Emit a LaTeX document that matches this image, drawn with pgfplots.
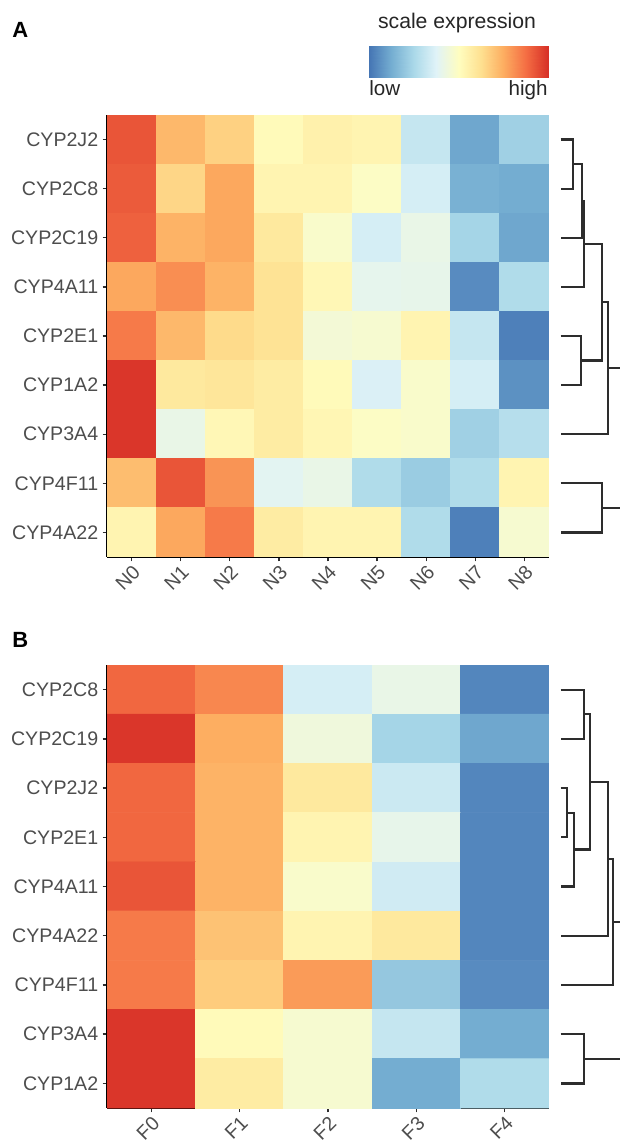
\documentclass[border=0pt]{standalone}
\usepackage{pgfplots}
\pgfplotsset{compat=1.18}
\usepackage{fontspec}
\setmainfont{Liberation Sans}
\definecolor{txtgray}{RGB}{77,77,77}
\definecolor{dgray}{RGB}{45,45,45}
\pgfplotsset{
  colormap={rdylbu}{rgb255=(69,117,180) rgb255=(116,173,209) rgb255=(171,217,233) rgb255=(224,243,248) rgb255=(255,253,191) rgb255=(254,224,144) rgb255=(253,174,97) rgb255=(244,109,67) rgb255=(215,48,39)},
  heat/.style={
    scale only axis, colormap name=rdylbu,
    point meta min=-2, point meta max=2,
    ymin=-0.5, ymax=8.5, y dir=reverse,
    axis x line*=bottom, axis y line*=left,
    axis line style={black, line width=0.8pt, -},
    tick style={dgray, line width=0.7pt},
    major tick length=2.2pt, tick align=outside,
    ytick={0,...,8}, xtick=data,
    tick label style={font=\fontsize{9.8}{10}\selectfont, text=txtgray},
    xticklabel style={rotate=45, anchor=north east, inner sep=0.8pt},
    yticklabel style={inner sep=2pt},
  },
  dendro/.style={
    scale only axis, hide axis, xmin=549, xmax=620,
    ymin=-0.5, ymax=8.5, y dir=reverse, clip=true,
  },
}
\begin{document}
\begin{tikzpicture}
\useasboundingbox (0,0) rectangle (310pt,-570pt);
% ---------- colour legend ----------
\begin{axis}[at={(184.5pt,-23pt)}, anchor=north west, scale only axis,
  width=89.5pt, height=15.5pt, xmin=-2, xmax=2, ymin=0, ymax=1,
  colormap name=rdylbu, point meta min=-2, point meta max=2,
  axis line style={draw=none}, ytick=\empty,
  xtick={-1.66,-0.84,0,0.84,1.64}, xticklabels={},
  xtick pos=both, tick align=inside, major tick length=3pt,
  tick style={white, line width=0.5pt}]
\addplot[surf, shader=interp, mesh/cols=9, point meta=x] table {
x y
-2 0
-1.5 0
-1 0
-0.5 0
0 0
0.5 0
1 0
1.5 0
2 0
-2 1
-1.5 1
-1 1
-0.5 1
0 1
0.5 1
1 1
1.5 1
2 1
};
\end{axis}
\node[anchor=base, font=\fontsize{10.6}{12}\selectfont, text=black!85] at (228.5pt,-14pt) {scale expression};
\node[anchor=base west, inner sep=0pt, font=\fontsize{10.3}{12}\selectfont, text=black!85] at (184.5pt,-47.5pt) {low};
\node[anchor=base east, inner sep=0pt, font=\fontsize{10.3}{12}\selectfont, text=black!85] at (274pt,-47.5pt) {high};
\node[anchor=west, inner sep=0pt, font=\fontsize{11}{12}\bfseries] at (6pt,-15pt) {A};
\node[anchor=west, inner sep=0pt, font=\fontsize{11}{12}\bfseries] at (6pt,-320pt) {B};
% ---------- heatmap A ----------
\begin{axis}[heat, at={(53.5pt,-57.5pt)}, anchor=north west,
  width=221pt, height=221pt, xmin=-0.5, xmax=8.5,
  xtick={0,...,8}, xticklabels={N0,N1,N2,N3,N4,N5,N6,N7,N8},
  yticklabels={CYP2J2,CYP2C8,CYP2C19,CYP4A11,CYP2E1,CYP1A2,CYP3A4,CYP4F11,CYP4A22}]
\addplot[matrix plot*, mesh/cols=9, point meta=explicit] table[meta=c] {
x y c
0 0 1.7
1 0 0.9
2 0 0.65
3 0 0.05
4 0 0.2
5 0 0.15
6 0 -0.75
7 0 -1.55
8 0 -1.1
0 1 1.65
1 1 0.6
2 1 1.05
3 1 0.15
4 1 0.15
5 1 -0.05
6 1 -0.6
7 1 -1.45
8 1 -1.5
0 2 1.6
1 2 0.95
2 2 1.05
3 2 0.35
4 2 -0.1
5 2 -0.6
6 2 -0.35
7 2 -1.05
8 2 -1.55
0 3 1.05
1 3 1.25
2 3 0.95
3 3 0.45
4 3 0.1
5 3 -0.4
6 3 -0.38
7 3 -1.8
8 3 -0.95
0 4 1.4
1 4 0.9
2 4 0.55
3 4 0.45
4 4 -0.2
5 4 -0.15
6 4 0.15
7 4 -0.75
8 4 -1.9
0 5 1.95
1 5 0.35
2 5 0.4
3 5 0.3
4 5 0.05
5 5 -0.55
6 5 -0.1
7 5 -0.6
8 5 -1.75
0 6 1.95
1 6 -0.35
2 6 0.1
3 6 0.3
4 6 0.12
5 6 -0.05
6 6 -0.1
7 6 -1.1
8 6 -0.9
0 7 0.85
1 7 1.7
2 7 1.2
3 7 -0.45
4 7 -0.35
5 7 -0.95
6 7 -1.15
7 7 -0.95
8 7 0.15
0 8 0.15
1 8 1.05
2 8 1.4
3 8 0.3
4 8 0.15
5 8 0.15
6 8 -0.95
7 8 -1.9
8 8 -0.15
};
\end{axis}
% ---------- dendrogram A ----------
\begin{axis}[dendro, at={(274.5pt,-57.5pt)}, anchor=north west, width=35.5pt, height=221pt]
\addplot[dgray, line width=1.1pt] coordinates {(560.7,0) (573.3,0) (573.3,1) (560.7,1)};
\addplot[dgray, line width=1.1pt] coordinates {(573.3,0.5) (581.7,0.5) (581.7,2) (560.7,2)};
\addplot[dgray, line width=1.1pt] coordinates {(581.7,1.25) (583.7,1.25) (583.7,3) (560.7,3)};
\addplot[dgray, line width=1.1pt] coordinates {(560.7,4) (580.7,4) (580.7,5) (560.7,5)};
\addplot[dgray, line width=1.1pt] coordinates {(583.7,2.125) (601.7,2.125) (601.7,4.5) (580.7,4.5)};
\addplot[dgray, line width=1.1pt] coordinates {(601.7,3.3125) (608.3,3.3125) (608.3,6) (560.7,6)};
\addplot[dgray, line width=1.1pt] coordinates {(608.3,4.65625) (640,4.65625)};
\addplot[dgray, line width=1.1pt] coordinates {(560.7,7) (601.7,7) (601.7,8) (560.7,8)};
\addplot[dgray, line width=1.1pt] coordinates {(601.7,7.5) (640,7.5)};
\end{axis}
% ---------- heatmap B ----------
\begin{axis}[heat, at={(53.5pt,-332.5pt)}, anchor=north west,
  width=221pt, height=221.5pt, xmin=-0.5, xmax=4.5,
  xtick={0,...,4}, xticklabels={F0,F1,F2,F3,F4},
  yticklabels={CYP2C8,CYP2C19,CYP2J2,CYP2E1,CYP4A11,CYP4A22,CYP4F11,CYP3A4,CYP1A2}]
\addplot[matrix plot*, mesh/cols=5, point meta=explicit] table[meta=c] {
x y c
0 0 1.55
1 0 1.3
2 0 -0.6
3 0 -0.35
4 0 -1.85
0 1 1.95
1 1 1.0
2 1 -0.25
3 1 -1.05
4 1 -1.55
0 2 1.55
1 2 0.95
2 2 0.35
3 2 -0.7
4 2 -1.85
0 3 1.55
1 3 0.95
2 3 0.15
3 3 -0.38
4 3 -1.85
0 4 1.7
1 4 0.95
2 4 -0.1
3 4 -0.65
4 4 -1.85
0 5 1.4
1 5 0.8
2 5 0.15
3 5 0.35
4 5 -1.85
0 6 1.4
1 6 0.7
2 6 1.15
3 6 -1.2
4 6 -1.8
0 7 1.95
1 7 0.05
2 7 -0.15
3 7 -0.75
4 7 -1.5
0 8 1.95
1 8 0.3
2 8 -0.15
3 8 -1.5
4 8 -0.95
};
\end{axis}
% ---------- dendrogram B ----------
\begin{axis}[dendro, at={(274.5pt,-332.5pt)}, anchor=north west, width=35.5pt, height=221.5pt]
\addplot[dgray, line width=1.1pt] coordinates {(560.7,0) (584,0) (584,1) (560.7,1)};
\addplot[dgray, line width=1.1pt] coordinates {(560.7,2) (566.7,2) (566.7,3) (560.7,3)};
\addplot[dgray, line width=1.1pt] coordinates {(566.7,2.5) (574,2.5) (574,4) (560.7,4)};
\addplot[dgray, line width=1.1pt] coordinates {(584,0.5) (590,0.5) (590,3.25) (574,3.25)};
\addplot[dgray, line width=1.1pt] coordinates {(590,1.875) (608.3,1.875) (608.3,5) (560.7,5)};
\addplot[dgray, line width=1.1pt] coordinates {(608.3,3.4375) (612.7,3.4375) (612.7,6) (560.7,6)};
\addplot[dgray, line width=1.1pt] coordinates {(612.7,4.71875) (640,4.71875)};
\addplot[dgray, line width=1.1pt] coordinates {(560.7,7) (584,7) (584,8) (560.7,8)};
\addplot[dgray, line width=1.1pt] coordinates {(584,7.5) (640,7.5)};
\end{axis}
\end{tikzpicture}
\end{document}
